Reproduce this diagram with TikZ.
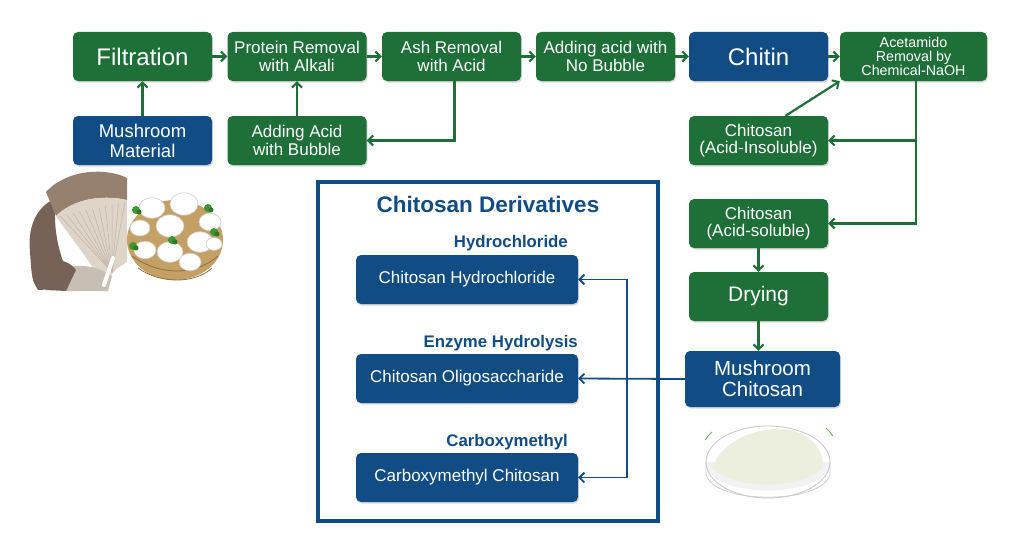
\documentclass[tikz,border=0pt]{standalone}
\usepackage{fontspec}
\setmainfont{Liberation Sans}
\usetikzlibrary{arrows.meta,shadows,calc}
\definecolor{cgreen}{RGB}{30,112,56}
\definecolor{cblue}{RGB}{17,76,133}
\definecolor{mbrown}{RGB}{150,128,112}
\definecolor{mdark}{RGB}{118,98,86}
\definecolor{mgill}{RGB}{222,212,200}
\definecolor{basket}{RGB}{196,160,100}
\definecolor{leaf}{RGB}{60,150,50}
\definecolor{powder}{RGB}{236,238,222}
\tikzset{
  boxbase/.style={rounded corners=5pt, text=white, align=center, inner sep=1pt,
    drop shadow={shadow xshift=1pt, shadow yshift=-1.5pt, opacity=0.3}},
  gbox/.style={boxbase, fill=cgreen, minimum width=139pt, minimum height=49pt},
  bbox/.style={boxbase, fill=cblue, minimum width=139pt, minimum height=49pt},
  dbox/.style={boxbase, fill=cblue, minimum width=222pt, minimum height=49pt, font=\fontsize{17}{18}\selectfont},
  mid/.style={font=\fontsize{17}{17.5}\selectfont},
  big/.style={font=\fontsize{24}{26}\selectfont},
  garr/.style={draw=cgreen, line width=2.2pt, -{Straight Barb[length=5pt,width=10pt,line width=2pt]}},
  barr/.style={draw=cblue, line width=1.8pt, -{Straight Barb[length=5pt,width=10pt,line width=1.8pt]}},
  dlabel/.style={anchor=east, text=cblue, font=\bfseries\fontsize{16.8}{17}\selectfont, inner sep=0pt}
}
\begin{document}
\begin{tikzpicture}[x=1pt,y=-1pt]
\useasboundingbox (0,0) rectangle (1024,543);
\fill[white] (0,0) rectangle (1024,543);

% top row
\node[gbox,big] (filt) at (142.5,56.5) {Filtration};
\node[gbox,mid] (prot) at (297,56.5) {Protein Removal\\with Alkali};
\node[gbox,mid] (ash) at (451.5,56.5) {Ash Removal\\with Acid};
\node[gbox,mid] (nob) at (605.5,56.5) {Adding acid with\\No Bubble};
\node[bbox,big] (chitin) at (758.5,56.5) {Chitin};
\node[gbox,minimum width=147pt,font=\fontsize{14.3}{13.8}\selectfont] (acet) at (913.5,56.5) {Acetamido\\Removal by\\Chemical-NaOH};

% second row
\node[bbox,font=\fontsize{18.5}{20}\selectfont] (mat) at (142.5,140.5) {Mushroom\\Material};
\node[gbox,mid] (bub) at (297,140.5) {Adding Acid\\with Bubble};
\node[gbox,mid] (insol) at (758.5,140.5) {Chitosan\\(Acid-Insoluble)};
\node[gbox,mid] (sol) at (758.5,223.5) {Chitosan\\(Acid-soluble)};
\node[gbox,font=\fontsize{21}{22}\selectfont] (dry) at (758.5,296.5) {Drying};
\node[bbox,minimum width=155pt,minimum height=56pt,font=\fontsize{20.5}{21}\selectfont] (mchit) at (762.5,379) {Mushroom\\Chitosan};

% derivatives frame
\draw[cblue, line width=3.5pt] (318,182) rectangle (658,521);
\node[text=cblue, font=\bfseries\fontsize{22.5}{24}\selectfont] (title) at (488,204) {Chitosan Derivatives};
\node[dlabel] (lh) at (568,243) {Hydrochloride};
\node[dlabel] (le) at (578,343) {Enzyme Hydrolysis};
\node[dlabel] (lc) at (568,442) {Carboxymethyl};
\node[dbox] (hydro) at (467,279.5) {Chitosan Hydrochloride};
\node[dbox] (oligo) at (467,378.5) {Chitosan Oligosaccharide};
\node[dbox] (carb) at (467,477.5) {Carboxymethyl Chitosan};

% green connectors
\draw[garr] (mat.north) -- (filt.south);
\draw[garr] (bub.north) -- (prot.south);
\draw[garr] (filt.east) -- (prot.west);
\draw[garr] (prot.east) -- (ash.west);
\draw[garr] (ash.east) -- (nob.west);
\draw[garr] (nob.east) -- (chitin.west);
\draw[garr] (chitin.east) -- (acet.west);
\draw[garr] ([xshift=3pt]ash.south) |- (bub.east);
\coordinate (asplit) at ([xshift=2.5pt]acet.south);
\draw[garr] (asplit) |- (insol.east);
\draw[garr] (asplit) |- (sol.east);
\draw[garr] ([xshift=27pt]insol.north) -- (acet.south west);
\draw[garr] (sol.south) -- (dry.north);
\draw[garr] (dry.south) -- (dry.south |- mchit.north);

% blue connectors
\coordinate (vb) at (627,378.5);
\draw[barr] (mchit.west) -- (oligo.east);
\draw[barr] (vb) |- (hydro.east);
\draw[barr] (vb) |- (carb.east);

% oyster mushrooms (sketch)
\fill[mdark] (30,252) .. controls (27,222) and (40,205) .. (56,198) .. controls (52,232) and (60,262) .. (76,288) -- (38,290) .. controls (32,280) .. (30,252) -- cycle;
\fill[mbrown] (46,192) .. controls (68,168) and (108,168) .. (127,178) -- (127,200) .. controls (100,194) and (72,200) .. (56,216) -- cycle;
\fill[mgill] (56,216) .. controls (72,200) and (100,194) .. (127,200) -- (127,262) .. controls (114,270) .. (104,287) .. controls (92,262) and (72,240) .. (56,216) -- cycle;
\fill[mgill!90!black] (58,272) .. controls (74,262) and (96,265) .. (112,276) -- (108,291) -- (66,291) -- cycle;
\fill[mdark] (50,262) .. controls (60,258) and (70,262) .. (76,270) -- (66,291) -- (46,290) -- cycle;
\foreach \a in {0,1,...,10}{
  \draw[mbrown!60, line width=0.5pt] (112,272) -- ($(60,216)!\a/10!(125,202)$);
}
\draw[white!92!mgill, line width=4pt, line cap=round] (104,285) -- (113,258);

% bowl of white mushrooms (sketch)
\fill[basket] (175,240) ellipse (48pt and 40pt);
\draw[basket!70!black, line width=0.8pt] (132,256) .. controls (160,276) and (195,276) .. (218,256);
\draw[basket!70!black, line width=0.8pt] (138,268) .. controls (160,284) and (195,284) .. (212,268);
\foreach \p/\rx/\ry in {152/208/13, 184/204/14, 210/222/11, 140/228/10, 170/226/14, 200/242/13, 145/250/11, 170/252/13, 190/262/11, 214/244/8}{
  \fill[white] (\p,\rx) ellipse ({\ry pt} and {0.8*\ry pt});
  \draw[gray!40, line width=0.6pt] (\p,\rx) ellipse ({\ry pt} and {0.8*\ry pt});
}
\foreach \x/\y in {208/208,136/210,172/240,133/246,214/232}{
  \fill[leaf] (\x,\y) circle (4pt);
  \fill[leaf!80!black] (\x+3,\y+2) circle (2.5pt);
}

% powder dish (sketch)
\fill[gray!10] (706,462) .. controls (706,500) and (830,500) .. (830,462) -- cycle;
\draw[gray!45, line width=0.8pt] (768,462) ellipse (62pt and 36pt);
\fill[powder] (712,468) .. controls (722,440) and (760,425) .. (790,430) .. controls (812,435) and (826,452) .. (822,468) .. controls (800,490) and (735,490) .. (712,468) -- cycle;
\draw[gray!40, line width=0.8pt] (706,462) -- (706,474) .. controls (712,505) and (824,505) .. (830,474) -- (830,462);
\draw[leaf!70, line width=1pt] (712,432) arc (130:150:30pt);
\draw[leaf!70, line width=1pt] (826,428) arc (50:30:30pt);
\end{tikzpicture}
\end{document}
